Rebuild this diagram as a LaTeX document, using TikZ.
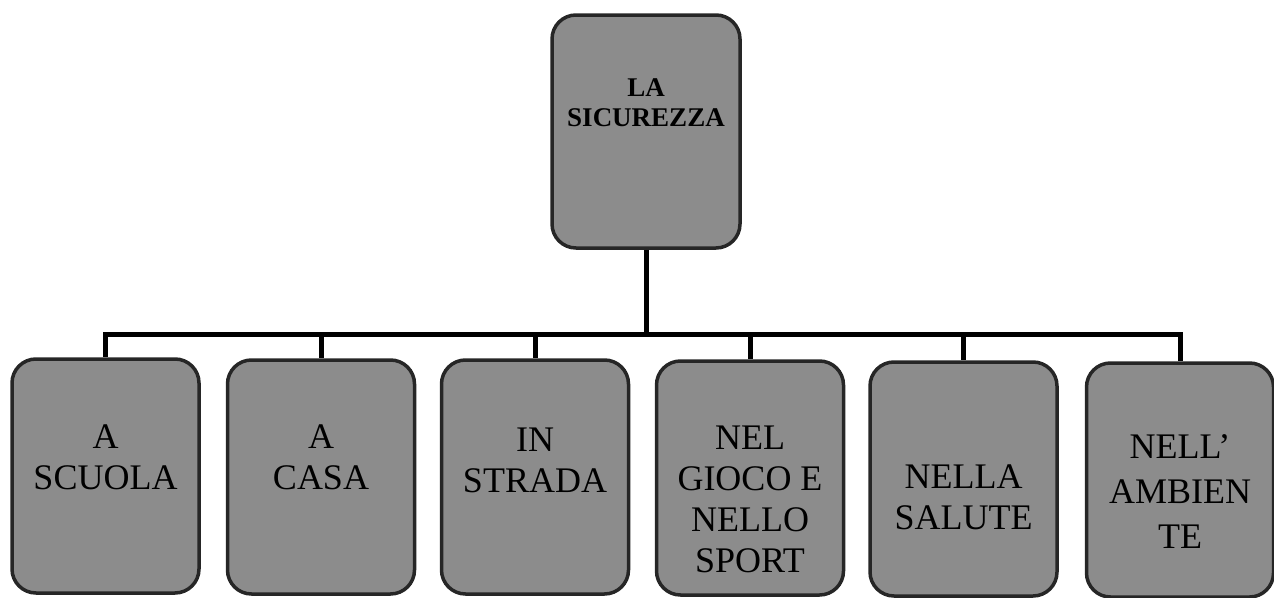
\documentclass[tikz,border=0pt]{standalone}
\usepackage{fontspec}
\setmainfont{Liberation Serif}
\begin{document}
\begin{tikzpicture}[x=1pt,y=-1pt,
  box/.style={draw=black!85, line width=3.5pt, fill=black!45, rounded corners=24pt,
    minimum width=187pt, minimum height=234pt, inner sep=0pt},
  topbox/.style={box, minimum width=188pt, minimum height=233pt},
  lbl/.style={align=center, font=\fontsize{36}{41}\selectfont, inner sep=0pt},
  toplbl/.style={align=center, font=\fontsize{27}{30}\selectfont\bfseries, inner sep=0pt},
  conn/.style={line width=5pt, black}]
\useasboundingbox (0,0) rectangle (1274,597);
\node[topbox] (top) at (646,131.5) {};
\node[toplbl] (ttop) at (646,103) {LA\\SICUREZZA};
\node[box] (b1) at (105.5,476) {};
\node[box] (b2) at (321,477) {};
\node[box] (b3) at (535,477) {};
\node[box] (b4) at (750,478) {};
\node[box] (b5) at (963.5,479) {};
\node[box] (b6) at (1180,480) {};
\node[lbl] (t1) at (105.5,457) {A\\SCUOLA};
\node[lbl] (t2) at (321,457) {A\\CASA};
\node[lbl] (t3) at (535,460) {IN\\STRADA};
\node[lbl] (t4) at (750,499) {NEL\\GIOCO E\\NELLO\\SPORT};
\node[lbl] (t5) at (963.5,497) {NELLA\\SALUTE};
\node[lbl, font=\fontsize{36}{45}\selectfont] (t6) at (1180,492) {NELL'\\AMBIEN\\TE};
\coordinate (j) at (646,334);
\draw[conn] (top.south) -- (j);
\foreach \b in {b1,b2,b3,b4,b5,b6} \draw[conn] (j) -| (\b.north);
\end{tikzpicture}
\end{document}
